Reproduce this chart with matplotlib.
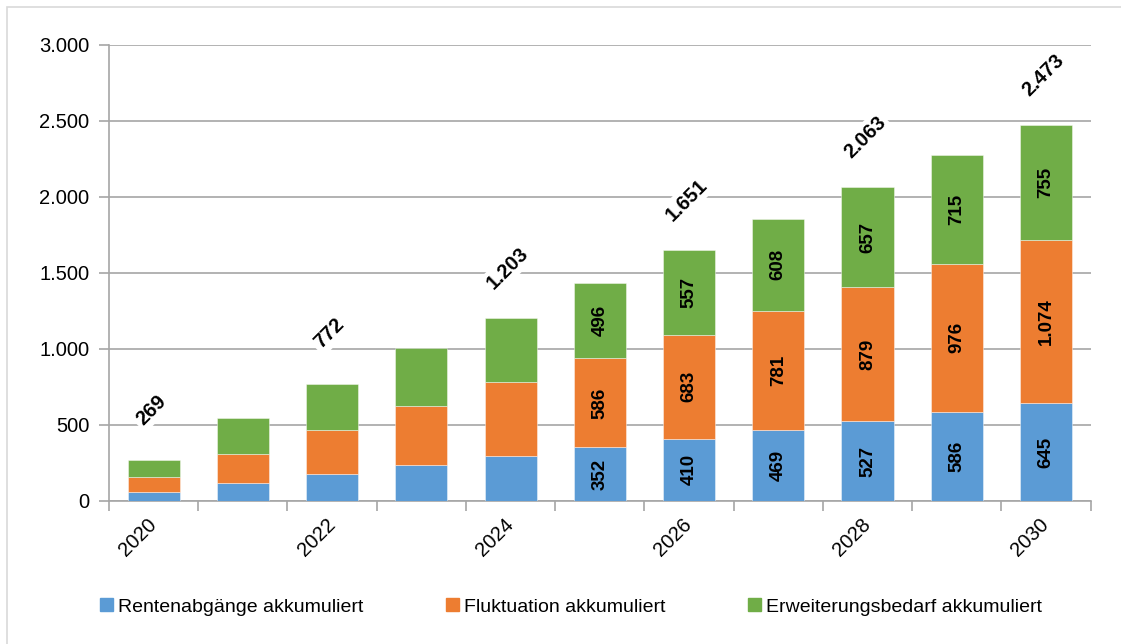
import matplotlib.pyplot as plt
import numpy as np
from matplotlib.patches import Rectangle, Patch

# Werte aus der Grafik (2020-2024 geschaetzt, ab 2025 beschriftet)
years = [2020, 2021, 2022, 2023, 2024, 2025, 2026, 2027, 2028, 2029, 2030]
rente = [59, 117, 176, 234, 293, 352, 410, 469, 527, 586, 645]
fluktuation = [98, 195, 293, 390, 488, 586, 683, 781, 879, 976, 1074]
erweiterung = [112, 236, 303, 383, 422, 496, 557, 608, 657, 715, 755]
total_labels = {2020: 269, 2022: 772, 2024: 1203, 2026: 1651, 2028: 2063, 2030: 2473}
labeled_years = [2025, 2026, 2027, 2028, 2029, 2030]

series_names = ["Rentenabgänge akkumuliert", "Fluktuation akkumuliert",
                "Erweiterungsbedarf akkumuliert"]
colors = ["#5B9BD5", "#ED7D31", "#70AD47"]

plt.rcParams["font.family"] = ["Liberation Sans", "DejaVu Sans"]


def de_fmt(v):
    return f"{v:,.0f}".replace(",", ".")


fig = plt.figure(figsize=(11.21, 6.44), dpi=100)
ax = fig.add_axes([109 / 1121, 1 - 501 / 644, (1090.7 - 109) / 1121, (501 - 45) / 644])

# Rahmen um die Grafik
fig.patches.append(Rectangle((7 / 1121, -0.1), 1.2, 1.1 - 7 / 644, transform=fig.transFigure,
                             fill=False, edgecolor="#D9D9D9", linewidth=1.2))

x = np.arange(len(years))
bottom = np.zeros(len(years))
for vals, name, col in zip([rente, fluktuation, erweiterung], series_names, colors):
    vals = np.array(vals)
    ax.bar(x, vals, width=0.585, bottom=bottom, color=col, label=name,
           edgecolor=(1, 1, 1, 0.5), linewidth=0.6, zorder=3)
    for i, yr in enumerate(years):
        if yr in labeled_years:
            ax.text(x[i], bottom[i] + vals[i] / 2, de_fmt(vals[i]), rotation=90,
                    ha="center", va="center", fontsize=13.5, fontweight="bold", zorder=4)
    bottom += vals

for i, yr in enumerate(years):
    if yr in total_labels:
        ax.annotate(de_fmt(total_labels[yr]), (x[i], bottom[i]), xytext=(-2, 36),
                    textcoords="offset points", rotation=45, ha="center", va="center",
                    fontsize=14.5, fontweight="bold", zorder=5,
                    bbox=dict(boxstyle="square,pad=0.15", fc="white", ec="none"))

ax.set_xlim(-0.5, len(years) - 0.5)
ax.set_ylim(0, 3000)
ax.set_yticks(range(0, 3001, 500))
ax.set_yticklabels([de_fmt(v) for v in range(0, 3001, 500)], fontsize=14.5)
ax.yaxis.grid(True, color="#A6A6A6", linewidth=1.2, zorder=0)
ax.set_axisbelow(True)

ax.set_xticks(x)
ax.set_xticklabels([str(y) if y % 2 == 0 else "" for y in years], fontsize=14.5,
                   rotation=45, ha="right", va="center", rotation_mode="anchor")
ax.tick_params(axis="x", length=0, pad=15)
ax.set_xticks(np.arange(-0.5, len(years)), minor=True)
ax.tick_params(axis="x", which="minor", length=7, color="#A6A6A6", width=1.2)
ax.tick_params(axis="y", length=7, color="#A6A6A6", width=1.2, pad=7)

for s in ["top", "right"]:
    ax.spines[s].set_visible(False)
for s in ["left", "bottom"]:
    ax.spines[s].set_color("#A6A6A6")
    ax.spines[s].set_linewidth(1.2)

# Legende: drei Eintraege an festen Positionen wie im Original
legend_x = [100 / 1121, 446 / 1121, 748 / 1121]
for name, col, lx in zip(series_names, colors, legend_x):
    fig.legend(handles=[Patch(color=col)], labels=[name], loc="center left",
               bbox_to_anchor=(lx, 1 - 607 / 644), frameon=False, fontsize=14,
               handlelength=0.65, handleheight=0.65, handletextpad=0.3, borderaxespad=0,
               borderpad=0)

fig.savefig("out.png", dpi=100)
